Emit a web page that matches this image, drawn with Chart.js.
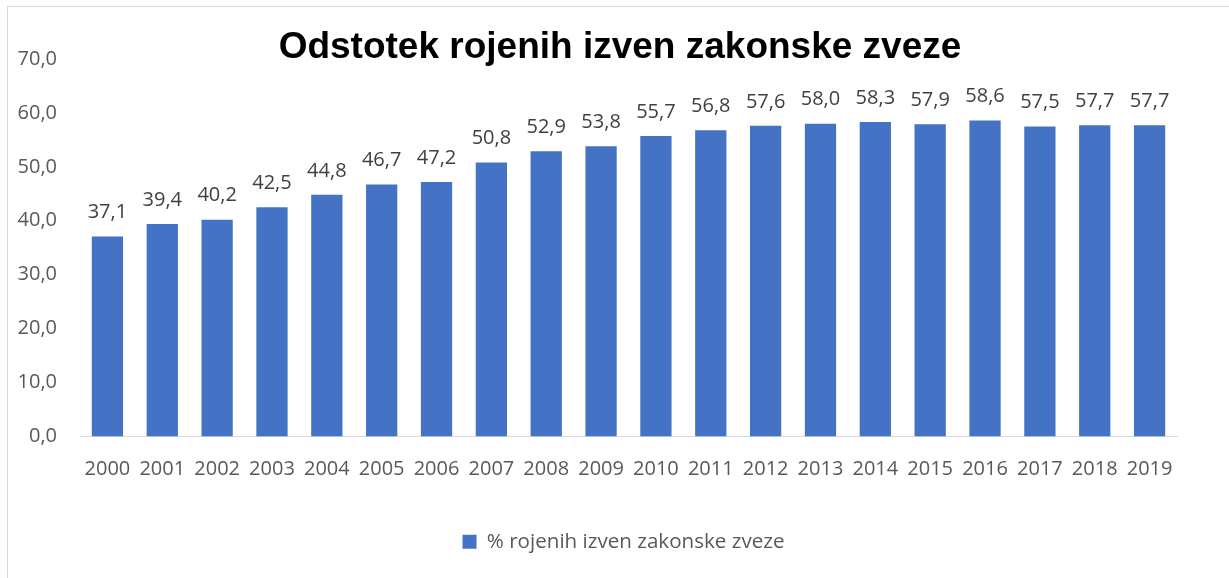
<!DOCTYPE html>
<html>
<head>
<meta charset="utf-8">
<script src="https://cdn.jsdelivr.net/npm/chart.js@4"></script>
<style>
  html, body { margin: 0; padding: 0; background: #fff; overflow: hidden; }
  #wrap { position: relative; width: 1229px; height: 578px; }
  #frame { position: absolute; left: 7px; top: 6px; width: 1260px; height: 620px; border: 1px solid #d9d9d9; box-sizing: border-box; pointer-events: none; }
  canvas { position: absolute; left: 0; top: 0; }
</style>
</head>
<body>
<div id="wrap">
  <div id="frame"></div>
  <canvas id="c" width="1229" height="578"></canvas>
</div>
<script>
  "use strict";
  const title = "Odstotek rojenih izven zakonske zveze";
  const seriesLabel = "% rojenih izven zakonske zveze";
  const years = ["2000", "2001", "2002", "2003", "2004", "2005", "2006", "2007", "2008", "2009",
                 "2010", "2011", "2012", "2013", "2014", "2015", "2016", "2017", "2018", "2019"];
  const shares = [37.1, 39.4, 40.2, 42.5, 44.8, 46.7, 47.2, 50.8, 52.9, 53.8,
                  55.7, 56.8, 57.6, 58.0, 58.3, 57.9, 58.6, 57.5, 57.7, 57.7];
  const yMin = 0, yMax = 70, yStep = 10;

  const fmt = (v) => Number(v).toFixed(1).replace(".", ",");
  const FONT = "'Open Sans', sans-serif";

  // value labels above each bar + the title drawn over the plot top
  const overlay = {
    id: "overlay",
    afterLayout(chart) {
      // the original legend sits centred on the whole frame, not the padded box
      const lg = chart.legend;
      if (lg) { lg.left += 35; lg.right += 35; }
    },
    afterDatasetsDraw(chart) {
      const ctx = chart.ctx;
      const meta = chart.getDatasetMeta(0);
      ctx.save();
      ctx.font = "20px " + FONT;
      ctx.fillStyle = "#404040";
      ctx.textAlign = "center";
      ctx.textBaseline = "middle";
      meta.data.forEach((bar, i) => {
        ctx.fillText(fmt(shares[i]), bar.x, bar.y - 24);
      });
      ctx.font = "bold 37px 'Liberation Sans', Arial, sans-serif";
      ctx.fillStyle = "#000";
      ctx.fillText(title, 620, 48);
      ctx.restore();
    },
  };

  new Chart(document.getElementById("c"), {
    type: "bar",
    data: {
      labels: years,
      datasets: [{
        label: seriesLabel,
        data: shares,
        backgroundColor: "#4472c4",
        borderWidth: 0,
        barPercentage: 0.57,
        categoryPercentage: 1,
      }],
    },
    options: {
      responsive: false,
      animation: false,
      layout: { padding: { left: 0, right: 52, top: 59, bottom: 16 } },
      plugins: {
        title: { display: false },
        tooltip: { enabled: false },
        legend: {
          position: "bottom",
          labels: {
            color: "#595959",
            font: { family: FONT, size: 20.6 },
            boxWidth: 14,
            boxHeight: 14,
            padding: 10,
          },
        },
      },
      scales: {
        x: {
          grid: { display: false, drawTicks: false },
          border: { display: true, color: "#d9d9d9", width: 1 },
          ticks: { color: "#595959", font: { family: FONT, size: 20 }, padding: 21, maxRotation: 0, autoSkip: false },
          afterFit: (s) => { s.height = 85; },
        },
        y: {
          min: yMin,
          max: yMax,
          grid: { display: false, drawTicks: false },
          border: { display: false },
          ticks: { stepSize: yStep, color: "#595959", font: { family: FONT, size: 20 }, padding: 23, callback: (v) => fmt(v) },
          afterFit: (s) => { s.width = 80; },
        },
      },
    },
    plugins: [overlay],
  });
</script>
</body>
</html>
